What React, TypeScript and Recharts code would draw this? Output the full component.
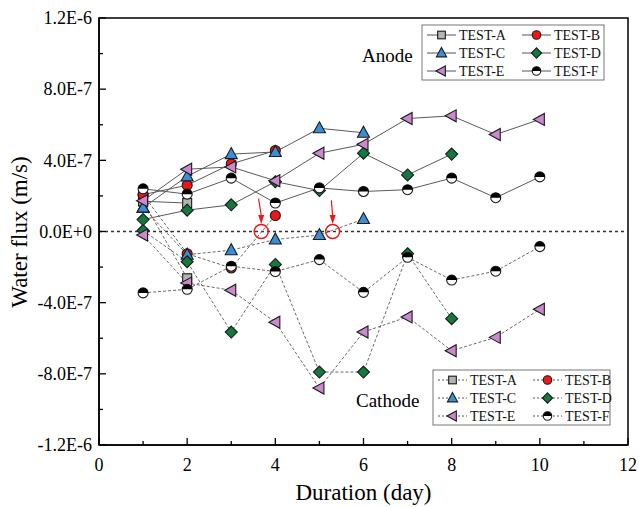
import React from 'react';
import {
  LineChart,
  Line,
  XAxis,
  YAxis,
  ReferenceLine,
  ReferenceDot,
  ReferenceArea,
} from 'recharts';

// water flux values in units of 1E-7 m/s
const days = [1, 2, 3, 4, 5, 6, 7, 8, 9, 10];

const anodeA = [1.7, 1.6];
const anodeB = [2.07, 2.6, 3.8, 4.55];
const anodeC = [1.34, 3.1, 4.35, 4.47, 5.8, 5.55];
const anodeD = [0.67, 1.2, 1.5, 2.8, 2.3, 4.4, 3.18, 4.35];
const anodeE = [1.73, 3.5, 3.63, 2.85, 4.4, 4.9, 6.35, 6.5, 5.45, 6.3];
const anodeF = [2.4, 2.1, 3.0, 1.6, 2.45, 2.25, 2.35, 3.0, 1.9, 3.07];

const cathodeA = [1.7, -2.63];
const cathodeB = [2.07, -1.25, -2.05, 0.9];
const cathodeC = [1.34, -1.3, -1.05, -0.45, -0.2, 0.7];
const cathodeD = [0.05, -1.7, -5.65, -1.85, -7.9, -7.9, -1.25, -4.9];
const cathodeE = [-0.2, -2.9, -3.3, -5.1, -8.8, -5.65, -4.8, -6.7, -5.95, -4.37];
const cathodeF = [-3.45, -3.25, -1.95, -2.25, -1.58, -3.42, -1.45, -2.73, -2.23, -0.85];

const xTicks = [0, 1, 2, 3, 4, 5, 6, 7, 8, 9, 10, 11, 12];
const yTicks = [-12, -10, -8, -6, -4, -2, 0, 2, 4, 6, 8, 10, 12];

// zero-crossing annotations (day, value)
const crossings = [
  { x: 3.68, y: 0 },
  { x: 5.3, y: 0 },
];
const arrowStarts = [
  { x: 3.62, y: 1.85 },
  { x: 5.27, y: 1.75 },
];

const FONT = '"Liberation Serif", "Times New Roman", serif';
const EDGE = '#1a1a1a';

type Kind = 'square' | 'circle' | 'triangle' | 'diamond' | 'left' | 'half';

const seriesStyle: { name: string; kind: Kind; fill: string }[] = [
  { name: 'TEST-A', kind: 'square', fill: '#b3b3b3' },
  { name: 'TEST-B', kind: 'circle', fill: '#f01616' },
  { name: 'TEST-C', kind: 'triangle', fill: '#3b8dd6' },
  { name: 'TEST-D', kind: 'diamond', fill: '#127a3c' },
  { name: 'TEST-E', kind: 'left', fill: '#cc88cc' },
  { name: 'TEST-F', kind: 'half', fill: '#000000' },
];

function Marker({ kind, fill, cx, cy, s = 1 }: { kind: Kind; fill: string; cx: number; cy: number; s?: number }) {
  const sw = 1.1;
  switch (kind) {
    case 'square':
      return <rect x={cx - 4.5 * s} y={cy - 4.5 * s} width={9 * s} height={9 * s} fill={fill} stroke={EDGE} strokeWidth={sw} />;
    case 'circle':
      return <circle cx={cx} cy={cy} r={5 * s} fill={fill} stroke={EDGE} strokeWidth={sw} />;
    case 'triangle':
      return (
        <polygon
          points={`${cx},${cy - 6.5 * s} ${cx + 6 * s},${cy + 4.5 * s} ${cx - 6 * s},${cy + 4.5 * s}`}
          fill={fill}
          stroke={EDGE}
          strokeWidth={sw}
        />
      );
    case 'diamond':
      return (
        <polygon
          points={`${cx},${cy - 6 * s} ${cx + 6 * s},${cy} ${cx},${cy + 6 * s} ${cx - 6 * s},${cy}`}
          fill={fill}
          stroke={EDGE}
          strokeWidth={sw}
        />
      );
    case 'left':
      return (
        <polygon
          points={`${cx - 6.5 * s},${cy} ${cx + 4.5 * s},${cy - 6 * s} ${cx + 4.5 * s},${cy + 6 * s}`}
          fill={fill}
          stroke={EDGE}
          strokeWidth={sw}
        />
      );
    case 'half': {
      const r = 5 * s;
      return (
        <g>
          <circle cx={cx} cy={cy} r={r} fill="#fff" stroke={EDGE} strokeWidth={sw} />
          <path d={`M${cx - r},${cy} A${r},${r} 0 0 1 ${cx + r},${cy} Z`} fill={fill} />
        </g>
      );
    }
  }
  return null;
}

const toPoints = (vals: number[]) => vals.map((v, i) => ({ day: days[i], flux: v }));

const anodeSeries = [anodeA, anodeB, anodeC, anodeD, anodeE, anodeF].map(toPoints);
const cathodeSeries = [cathodeA, cathodeB, cathodeC, cathodeD, cathodeE, cathodeF].map(toPoints);

const fmtY = (v: number) => (v * 1e-7).toExponential(1).toUpperCase();

function XTick(props: any) {
  const { x, y, payload } = props;
  const major = payload.value % 2 === 0;
  return (
    <g>
      <line x1={x} y1={y} x2={x} y2={y - (major ? 7 : 4)} stroke="#000" strokeWidth={1.3} />
      {major && (
        <text x={x} y={y + 26} textAnchor="middle" fontFamily={FONT} fontSize={18} fill="#000">
          {payload.value}
        </text>
      )}
    </g>
  );
}

function YTick(props: any) {
  const { x, y, payload } = props;
  const major = Math.round(payload.value) % 4 === 0;
  return (
    <g>
      <line x1={x} y1={y} x2={x + (major ? 7 : 4)} y2={y} stroke="#000" strokeWidth={1.3} />
      {major && (
        <text x={x - 7} y={y} dy="0.35em" textAnchor="end" fontFamily={FONT} fontSize={18} fill="#000">
          {fmtY(payload.value)}
        </text>
      )}
    </g>
  );
}

function LegendBox({ x, y, w, dashed }: { x: number; y: number; w: number; dashed: boolean }) {
  const rowH = 18;
  const colW = 95;
  return (
    <g>
      <rect x={x} y={y} width={w} height={55} fill="#fff" stroke="#777" strokeWidth={1} />
      {seriesStyle.map((s, i) => {
        const col = i % 2;
        const row = Math.floor(i / 2);
        const lx = x + 5 + col * colW;
        const ly = y + 10 + row * rowH;
        return (
          <g key={s.name}>
            <line
              x1={lx}
              y1={ly}
              x2={lx + 29}
              y2={ly}
              stroke="#555"
              strokeWidth={1}
              strokeDasharray={dashed ? '2 2' : undefined}
            />
            <Marker kind={s.kind} fill={s.fill} cx={lx + 14.5} cy={ly} s={0.85} />
            <text x={lx + 32} y={ly} dy="0.35em" fontFamily={FONT} fontSize={14} fill="#111">
              {s.name}
            </text>
          </g>
        );
      })}
    </g>
  );
}

function ArrowHead(props: any) {
  const { cx, cy } = props;
  return <polygon points={`${cx},${cy} ${cx - 3},${cy - 9} ${cx + 3},${cy - 9}`} fill="#f01616" />;
}

export default function App() {
  return (
    <div style={{ position: 'absolute', left: 0, top: 0, width: 639, height: 507, background: '#fff' }}>
      <LineChart width={639} height={507} margin={{ top: 18, right: 11, left: 0, bottom: 0 }}>
        <XAxis
          dataKey="day"
          type="number"
          domain={[0, 12]}
          ticks={xTicks}
          interval={0}
          height={62}
          tickSize={0}
          tickMargin={0}
          tickLine={false}
          tick={<XTick />}
          axisLine={{ stroke: '#000', strokeWidth: 1.5 }}
          allowDuplicatedCategory={false}
          label={{
            value: 'Duration (day)',
            position: 'insideBottom',
            offset: 7,
            style: { fontFamily: FONT, fontSize: 23, fill: '#000' },
          }}
        />
        <YAxis
          dataKey="flux"
          type="number"
          domain={[-12, 12]}
          ticks={yTicks}
          interval={0}
          width={99}
          tickSize={0}
          tickMargin={0}
          tickLine={false}
          tick={<YTick />}
          axisLine={{ stroke: '#000', strokeWidth: 1.5 }}
        />
        <ReferenceArea x1={0} x2={12} y1={-12} y2={12} fill="none" stroke="#000" strokeWidth={1.5} />
        <ReferenceLine y={0} stroke="#333" strokeWidth={1.5} strokeDasharray="3 3" />

        {cathodeSeries.map((pts, i) => (
          <Line
            key={'c' + i}
            data={pts}
            dataKey="flux"
            type="linear"
            stroke="#6a6a6a"
            strokeWidth={1}
            strokeDasharray="3 2"
            isAnimationActive={false}
            dot={(p: any) => (
              <Marker key={'cd' + i + '-' + p.index} kind={seriesStyle[i].kind} fill={seriesStyle[i].fill} cx={p.cx} cy={p.cy} />
            )}
            activeDot={false}
          />
        ))}
        {anodeSeries.map((pts, i) => (
          <Line
            key={'a' + i}
            data={pts}
            dataKey="flux"
            type="linear"
            stroke="#5a5a5a"
            strokeWidth={1}
            isAnimationActive={false}
            dot={(p: any) => (
              <Marker key={'ad' + i + '-' + p.index} kind={seriesStyle[i].kind} fill={seriesStyle[i].fill} cx={p.cx} cy={p.cy} />
            )}
            activeDot={false}
          />
        ))}

        {crossings.map((c, i) => (
          <ReferenceLine
            key={'ar' + i}
            segment={[arrowStarts[i], { x: c.x, y: c.y + 0.9 }]}
            stroke="#f01616"
            strokeWidth={1.2}
          />
        ))}
        {crossings.map((c, i) => (
          <ReferenceDot key={'ah' + i} x={c.x} y={c.y + 0.42} r={0} shape={ArrowHead} />
        ))}
        {crossings.map((c, i) => (
          <ReferenceDot key={'cr' + i} x={c.x} y={c.y} r={7} fill="none" stroke="#f01616" strokeWidth={1.5} />
        ))}
      </LineChart>

      <svg
        width={639}
        height={507}
        style={{ position: 'absolute', left: 0, top: 0, pointerEvents: 'none' }}
      >
        <text
          transform="translate(27, 232) rotate(-90)"
          textAnchor="middle"
          fontFamily={FONT}
          fontSize={23}
          fill="#000"
        >
          Water flux (m/s)
        </text>
        <LegendBox x={422} y={25} w={182} dashed={false} />
        <text x={362} y={62} fontFamily={FONT} fontSize={19} fill="#000">
          Anode
        </text>
        <LegendBox x={433} y={370} w={177} dashed={true} />
        <text x={356} y={407} fontFamily={FONT} fontSize={19} fill="#000">
          Cathode
        </text>
      </svg>
    </div>
  );
}
